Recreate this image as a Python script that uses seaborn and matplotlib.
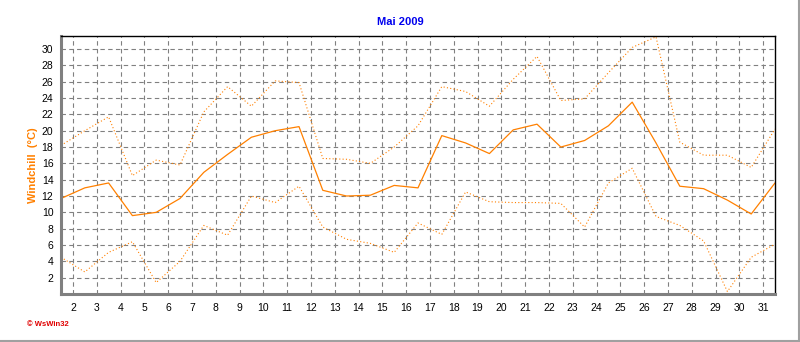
import numpy as np
import pandas as pd
import matplotlib
matplotlib.use('Agg')
import matplotlib.pyplot as plt
import seaborn as sns
from matplotlib.ticker import MultipleLocator
from matplotlib.lines import Line2D

# Daily windchill values for May 2009
days = list(range(1, 32))
wc_max = [18.2, 20.0, 21.7, 14.5, 16.4, 15.8, 22.3, 25.4, 23.0, 26.1, 25.9, 16.6, 16.5, 16.0, 18.0,
          20.6, 25.4, 24.8, 23.0, 26.3, 29.1, 23.7, 23.9, 27.1, 30.2, 31.5, 18.6, 17.0, 17.0, 15.5, 20.2]
wc_avg = [11.7, 13.0, 13.6, 9.6, 10.0, 11.7, 14.9, 17.1, 19.2, 20.0, 20.5, 12.7, 12.0, 12.1, 13.3,
          13.0, 19.4, 18.5, 17.2, 20.1, 20.8, 18.0, 18.8, 20.6, 23.5, 18.5, 13.2, 12.9, 11.5, 9.8, 13.6]
wc_min = [4.5, 2.7, 5.1, 6.4, 1.4, 4.0, 8.4, 7.2, 12.0, 11.2, 13.2, 8.2, 6.7, 6.2, 5.1,
          8.7, 7.3, 12.5, 11.3, 11.2, 11.2, 11.1, 8.2, 13.6, 15.4, 9.5, 8.4, 6.5, 0.3, 4.5, 6.1]
x_labels = [str(d) for d in range(2, 32)]
y_labels = [str(v) for v in range(2, 31, 2)]

df = pd.DataFrame({'day': np.array(days) + 0.5, 'max': wc_max, 'avg': wc_avg, 'min': wc_min})

sns.set_style('white')
plt.rcParams['font.family'] = ['Liberation Sans', 'DejaVu Sans']

orange = '#ff8000'
grey = '#808080'

fig = plt.figure(figsize=(8, 3.42), dpi=100)
ax = fig.add_axes([61 / 800, 1 - 294 / 342, 714 / 800, 258 / 342])

# dotted max/min, solid mean
sns.lineplot(data=df, x='day', y='max', ax=ax, color=orange, lw=0.8, linestyle=(0, (1, 2)))
sns.lineplot(data=df, x='day', y='min', ax=ax, color=orange, lw=0.8, linestyle=(0, (1, 2)))
sns.lineplot(data=df, x='day', y='avg', ax=ax, color=orange, lw=0.9)

ax.set_xlim(1.5, 31.5)
ax.set_ylim(0, 31.6)
ax.set_xticks(range(2, 32))
ax.set_xticklabels(x_labels)
ax.set_yticks(range(2, 31, 2))
ax.set_yticklabels(y_labels)
ax.xaxis.set_minor_locator(MultipleLocator(0.25))
ax.yaxis.set_minor_locator(MultipleLocator(1))

ax.grid(True, which='major', color=grey, linestyle=(0, (4, 3)), lw=0.8)
ax.set_axisbelow(True)
ax.tick_params(which='both', direction='out', color=grey, length=2.5, width=0.7,
               labelsize=7.5, labelcolor='black')
ax.tick_params(axis='x', pad=4)
ax.tick_params(axis='y', pad=3)

for side in ['left', 'bottom']:
    ax.spines[side].set_color(grey)
    ax.spines[side].set_linewidth(2.2)
for side in ['top', 'right']:
    ax.spines[side].set_color('black')
    ax.spines[side].set_linewidth(1.0)

ax.set_xlabel('')
ax.set_ylabel('')
fig.text(33 / 800, 1 - 165 / 342, 'Windchill  (°C)', rotation=90, color=orange,
         fontsize=8, fontweight='bold', ha='center', va='center')
fig.text(0.5, 1 - 22 / 342, 'Mai 2009', color='#0000ee', fontsize=8, fontweight='bold',
         ha='center', va='center')
fig.text(27 / 800, 1 - 324 / 342, '© WsWin32', color='#e00000', fontsize=5.5,
         fontweight='bold', ha='left', va='center')

# window frame at right and bottom
fig.add_artist(Line2D([798.5 / 800, 798.5 / 800], [0, 1], color='#a0a0a0', lw=1.5))
fig.add_artist(Line2D([0, 1], [0.6 / 342, 0.6 / 342], color='#a0a0a0', lw=1.5))

fig.savefig('out.png', dpi=100)
